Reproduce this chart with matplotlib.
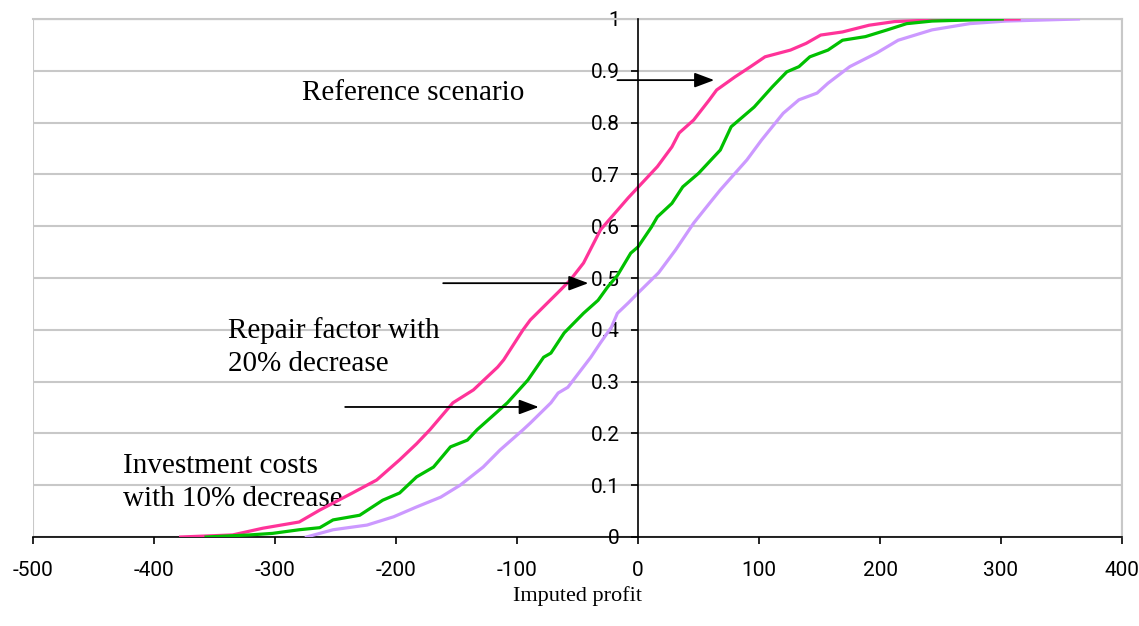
import matplotlib
matplotlib.use("Agg")
import matplotlib.pyplot as plt
from matplotlib.patches import Rectangle

plt.rcParams["axes.unicode_minus"] = False

# CDF curves (profit, cumulative probability)
ref_x = [-378, -335, -310, -280, -263, -236, -216, -197, -183, -172, -153, -136, -116, -111,
         -95, -89, -64, -56, -45, -31, -8, 16, 28, 34, 46, 59, 65, 80, 93, 105, 126, 139,
         151, 169, 191, 212, 243, 315]
ref_y = [0.0, 0.004, 0.017, 0.029, 0.052, 0.085, 0.11, 0.149, 0.18, 0.207, 0.259, 0.284,
         0.328, 0.342, 0.40, 0.419, 0.477, 0.496, 0.529, 0.593, 0.655, 0.715, 0.753, 0.78,
         0.805, 0.844, 0.863, 0.888, 0.908, 0.927, 0.94, 0.953, 0.969, 0.975, 0.988, 0.995,
         0.998, 1.0]

rep_x = [-357, -321, -302, -280, -263, -252, -230, -211, -197, -183, -169, -155, -141, -133,
         -108, -91, -78, -72, -61, -53, -45, -33, -25, -17, -6, 0, 11, 16, 28, 37, 50, 68,
         77, 96, 111, 123, 133, 142, 157, 169, 188, 206, 222, 243, 301]
rep_y = [0.0, 0.004, 0.007, 0.014, 0.018, 0.033, 0.042, 0.071, 0.085, 0.116, 0.135, 0.174,
         0.187, 0.207, 0.259, 0.303, 0.347, 0.355, 0.394, 0.413, 0.432, 0.457, 0.483, 0.505,
         0.548, 0.56, 0.598, 0.618, 0.644, 0.676, 0.702, 0.747, 0.792, 0.83, 0.869, 0.898,
         0.908, 0.927, 0.94, 0.959, 0.966, 0.979, 0.991, 0.996, 1.0]

inv_x = [-274, -252, -224, -202, -183, -163, -147, -128, -114, -95, -89, -72, -66, -58, -39,
         -31, -22, -17, -8, 0, 17, 31, 46, 59, 68, 90, 102, 120, 133, 148, 157, 175, 197,
         215, 243, 274, 304, 364]
inv_y = [0.0, 0.014, 0.023, 0.039, 0.058, 0.077, 0.10, 0.135, 0.168, 0.207, 0.22, 0.259,
         0.278, 0.289, 0.347, 0.375, 0.405, 0.432, 0.452, 0.471, 0.51, 0.554, 0.606, 0.644,
         0.67, 0.728, 0.766, 0.818, 0.844, 0.857, 0.876, 0.908, 0.934, 0.959, 0.979, 0.991,
         0.996, 1.0]

x_ticks = [-500, -400, -300, -200, -100, 0, 100, 200, 300, 400]
y_ticks = [0, 0.1, 0.2, 0.3, 0.4, 0.5, 0.6, 0.7, 0.8, 0.9, 1]
y_labels = ["0", "0.1", "0.2", "0.3", "0.4", "0.5", "0.6", "0.7", "0.8", "0.9", "1"]

tick_font = ["Roboto", "DejaVu Sans"]
serif = ["Liberation Serif", "DejaVu Serif"]

fig = plt.figure(figsize=(11.39, 6.26), dpi=100)
ax = fig.add_axes([33 / 1139, 89 / 626, 1089 / 1139, 518 / 626])

ax.plot(inv_x, inv_y, color="#cc99ff", lw=2.3, zorder=3)
ax.plot(rep_x, rep_y, color="#00c000", lw=2.3, zorder=4)
ax.plot(ref_x, ref_y, color="#ff3399", lw=2.3, zorder=3.5)

ax.set_xlim(-500, 400)
ax.set_ylim(0, 1)

# plot-area border in grey, axes in black
for s in ["top", "right"]:
    ax.spines[s].set_color("#c8c8c8")
    ax.spines[s].set_linewidth(1.5)
ax.spines["left"].set_position(("data", 0))
ax.spines["left"].set_color("black")
ax.spines["left"].set_linewidth(1.2)
ax.spines["left"].set_zorder(5)
ax.spines["bottom"].set_color("black")
ax.spines["bottom"].set_linewidth(1.2)
ax.add_patch(Rectangle((0, 0), 1, 1, transform=ax.transAxes, fill=False,
                       edgecolor="#c8c8c8", lw=1.5, zorder=0.5))

ax.yaxis.grid(True, color="#c8c8c8", lw=1.5)
ax.set_axisbelow(True)

ax.set_xticks(x_ticks)
ax.set_yticks(y_ticks)
ax.set_yticklabels(y_labels)
ax.tick_params(direction="out", length=5, width=1.2, color="black")
ax.tick_params(axis="y", pad=8)
ax.tick_params(axis="x", pad=12)
for lab in ax.get_xticklabels() + ax.get_yticklabels():
    lab.set_family(tick_font)
    lab.set_fontsize(15)

ax.set_xlabel("Imputed profit", family=serif, fontsize=16, labelpad=5)

ax.text(-278, 0.857, "Reference scenario", family=serif, fontsize=21, va="center")
ax.text(-339, 0.366, "Repair factor with\n20% decrease", family=serif, fontsize=21,
        va="center", linespacing=1.35)
ax.text(-426, 0.106, "Investment costs\nwith 10% decrease", family=serif, fontsize=21,
        va="center", linespacing=1.35)

arrow = dict(arrowstyle="-|>,head_length=1.2,head_width=0.45", color="black", lw=1.3,
             shrinkA=0, shrinkB=0)
ax.annotate("", xy=(63, 0.882), xytext=(-17, 0.882), arrowprops=arrow, zorder=6)
ax.annotate("", xy=(-41, 0.49), xytext=(-161, 0.49), arrowprops=arrow, zorder=6)
ax.annotate("", xy=(-82, 0.251), xytext=(-242, 0.251), arrowprops=arrow, zorder=6)

fig.savefig("out.png", dpi=100)
